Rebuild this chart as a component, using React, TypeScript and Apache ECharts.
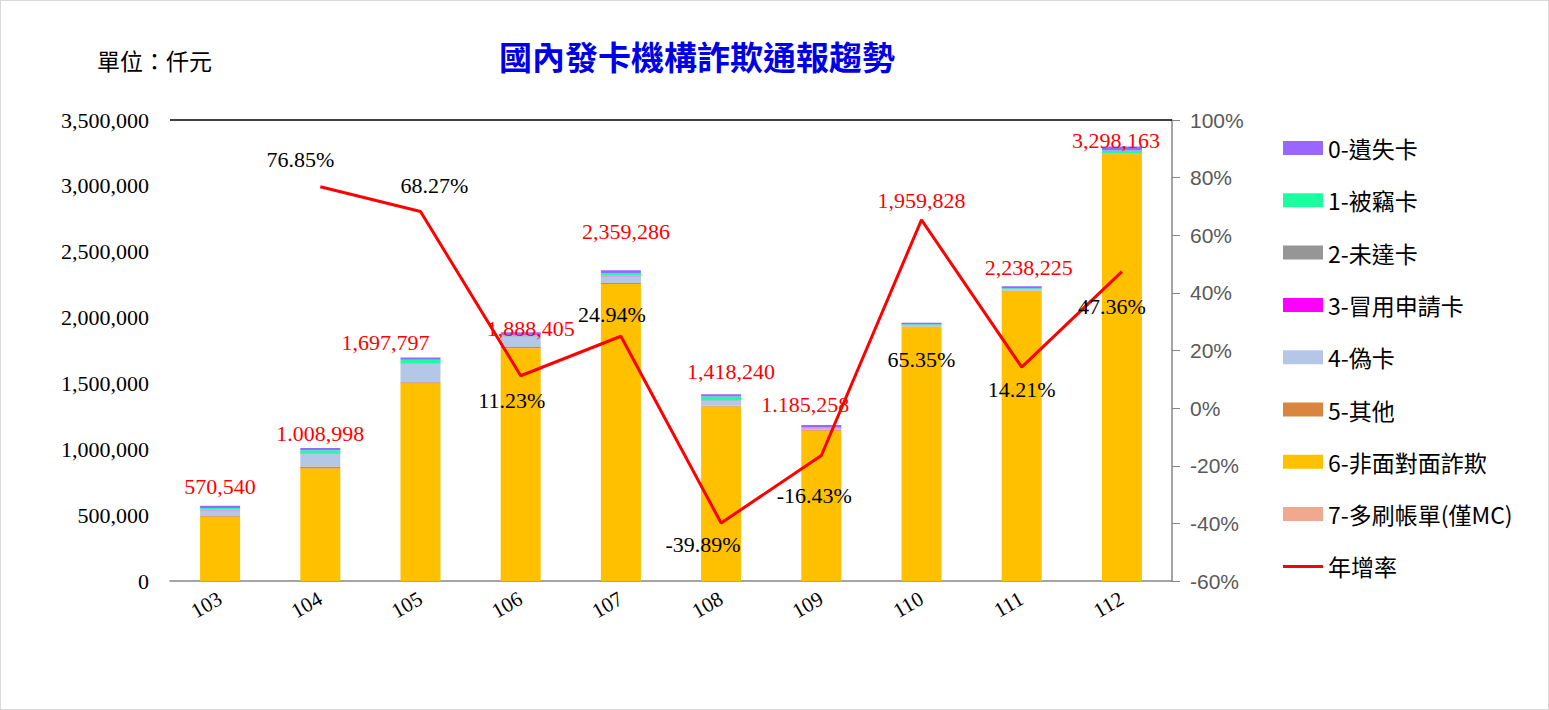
import React, { useEffect, useRef } from "react";
import * as echarts from "echarts";

// Reporting years (ROC calendar)
const years = ["103", "104", "105", "106", "107", "108", "109", "110", "111", "112"];

// Fraud reports by category, in thousands of NT$
const lostCard = [17000, 15998, 18797, 20405, 22286, 17240, 15258, 10828, 15225, 30163];
const stolenCard = [12000, 24000, 25000, 10000, 20000, 28000, 8000, 6000, 8000, 20000];
const notReceived = [3000, 2000, 2000, 2000, 2000, 2000, 1000, 1000, 1000, 1000];
const fraudApplication = [2000, 2000, 3000, 2000, 2000, 2000, 1000, 1000, 1000, 1000];
const counterfeit = [40000, 95000, 140000, 78000, 50000, 38000, 14000, 8000, 10000, 3000];
const otherFraud = [8000, 15000, 9000, 8000, 8000, 6000, 6000, 5000, 5000, 3000];
const cardNotPresent = [488540, 855000, 1500000, 1768000, 2255000, 1325000, 1140000, 1928000, 2198000, 3240000];
const multiBilling = [0, 0, 0, 0, 0, 0, 0, 0, 0, 0];

// Yearly totals and their printed labels
const totals = [570540, 1008998, 1697797, 1888405, 2359286, 1418240, 1185258, 1959828, 2238225, 3298163];
const totalLabels = ["570,540", "1.008,998", "1,697,797", "1,888,405", "2,359,286", "1,418,240", "1.185,258", "1,959,828", "2,238,225", "3,298,163"];

// Year-over-year growth (%)
const growth = [null, 76.85, 68.27, 11.23, 24.94, -39.89, -16.43, 65.35, 14.21, 47.36];

// Axis ticks
const leftTicks = { min: 0, max: 3500000, interval: 500000 };
const rightTicks = { min: -60, max: 100, interval: 20 };

const seriesNames = [
  "0-遺失卡",
  "1-被竊卡",
  "2-未達卡",
  "3-冒用申請卡",
  "4-偽卡",
  "5-其他",
  "6-非面對面詐欺",
  "7-多刷帳單(僅MC)",
];
const lineName = "年增率";

const serif = "'Liberation Serif', 'Times New Roman', serif";
const cjk = "'Noto Sans CJK TC', 'Noto Sans', sans-serif";

// Plain line swatch for the growth-rate legend entry (40x14 box, 3px stroke)
const lineIcon = "path://M0,0M0,5.5L40,5.5L40,8.5L0,8.5ZM40,14";

// Label placement tweaks (pixel offsets)
const totalLabelOffsets = [
  [0, -8], [0, -3], [-35, -3], [10, 8], [5, -27],
  [10, -11], [-16, -9], [0, -111], [7, -7], [-6, 5],
];
const growthLabelOffsets = [
  [0, 0], [-20, -16], [14, -14], [-9, 36], [-9, -10],
  [-18, 33], [-7, 52], [0, 151], [0, 34], [-10, 46],
];

export default function App() {
  const ref = useRef<HTMLDivElement>(null);

  useEffect(() => {
    document.body.style.margin = "0";
    if (!ref.current) return;
    const chart = echarts.init(ref.current, undefined, { renderer: "svg" });

    const stackDefs = [
      { name: seriesNames[7], data: multiBilling, color: "#f0a98e" },
      { name: seriesNames[6], data: cardNotPresent, color: "#ffc000" },
      { name: seriesNames[5], data: otherFraud, color: "#d9843f" },
      { name: seriesNames[4], data: counterfeit, color: "#b4c7e7" },
      { name: seriesNames[3], data: fraudApplication, color: "#ff00ff" },
      { name: seriesNames[2], data: notReceived, color: "#969696" },
      { name: seriesNames[1], data: stolenCard, color: "#1cff9e" },
      { name: seriesNames[0], data: lostCard, color: "#9966ff" },
    ];

    const barSeries = stackDefs.map((d) => ({
      name: d.name,
      type: "bar",
      stack: "total",
      barWidth: 40,
      data: d.data,
      itemStyle: { color: d.color },
      emphasis: { disabled: true },
    }));

    const labelFont = { fontFamily: serif, fontSize: 22 };
    const hiddenPoint = { color: "rgba(0,0,0,0)", opacity: 1 };

    const option: any = {
      animation: false,
      backgroundColor: "#ffffff",
      graphic: [
        {
          type: "text",
          x: 696,
          y: 55,
          style: {
            text: "國內發卡機構詐欺通報趨勢",
            fill: "#0000e6",
            font: `bold 33px ${cjk}`,
            textAlign: "center",
            textVerticalAlign: "middle",
          },
        },
        {
          type: "text",
          x: 96,
          y: 59,
          style: {
            text: "單位：仟元",
            fill: "#000000",
            font: `23px ${cjk}`,
            textAlign: "left",
            textVerticalAlign: "middle",
          },
        },
      ],
      legend: {
        orient: "vertical",
        left: 1282,
        top: 135,
        padding: 0,
        itemWidth: 40,
        itemHeight: 14,
        itemGap: 28.3,
        data: [
          ...seriesNames.map((n) => ({ name: n, icon: "rect" })),
          { name: lineName, icon: lineIcon },
        ],
        textStyle: {
          fontFamily: cjk,
          fontSize: 23,
          lineHeight: 24,
          color: "#000000",
        },
        selectedMode: false,
      },
      grid: { left: 169, right: 376, top: 119, bottom: 128, containLabel: false },
      xAxis: {
        type: "category",
        data: years,
        axisLine: { show: true, lineStyle: { color: "#868686", width: 1.5 } },
        axisTick: { show: false },
        axisLabel: {
          rotate: 30,
          margin: 16,
          fontFamily: serif,
          fontSize: 21,
          color: "#000000",
        },
      },
      yAxis: [
        {
          type: "value",
          min: leftTicks.min,
          max: leftTicks.max,
          interval: leftTicks.interval,
          axisLine: { show: false },
          axisTick: { show: false },
          splitLine: { show: false },
          axisLabel: {
            margin: 21,
            fontFamily: serif,
            fontSize: 22,
            color: "#000000",
            formatter: (v: number) => v.toLocaleString("en-US"),
          },
        },
        {
          type: "value",
          min: rightTicks.min,
          max: rightTicks.max,
          interval: rightTicks.interval,
          position: "right",
          axisLine: { show: true, lineStyle: { color: "#868686", width: 1.5 } },
          axisTick: { show: true, length: 8, inside: false, lineStyle: { color: "#868686" } },
          splitLine: { show: false },
          axisLabel: {
            margin: 18,
            fontFamily: "'Liberation Sans', Arial, sans-serif",
            fontSize: 21,
            color: "#595959",
            formatter: (v: number) => `${v}%`,
          },
        },
      ],
      series: [
        ...barSeries,
        {
          name: lineName,
          type: "line",
          yAxisIndex: 1,
          symbol: "none",
          z: 4,
          data: growth,
          lineStyle: { color: "#ff0000", width: 3 },
          itemStyle: { color: "#ff0000" },
          emphasis: { disabled: true },
        },
        {
          name: "總計",
          type: "scatter",
          symbolSize: 1,
          itemStyle: hiddenPoint,
          z: 5,
          data: totals.map((v, i) => ({
            value: v,
            label: { offset: totalLabelOffsets[i] },
          })),
          label: {
            show: true,
            position: "top",
            distance: 0,
            ...labelFont,
            color: "#ff0000",
            opacity: 1,
            formatter: (p: any) => totalLabels[p.dataIndex],
          },
          markLine: {
            silent: true,
            symbol: "none",
            label: { show: false },
            lineStyle: { color: "#000000", width: 1.5, type: "solid" },
            data: [{ yAxis: leftTicks.max }],
          },
          emphasis: { disabled: true },
        },
        {
          name: "年增率標籤",
          type: "scatter",
          yAxisIndex: 1,
          symbolSize: 1,
          itemStyle: hiddenPoint,
          z: 5,
          data: growth.map((v, i) => ({
            value: v == null ? "-" : v,
            label: { offset: growthLabelOffsets[i] },
          })),
          label: {
            show: true,
            position: "top",
            distance: 0,
            ...labelFont,
            color: "#000000",
            opacity: 1,
            formatter: (p: any) =>
              typeof p.value === "number" ? `${p.value.toFixed(2)}%` : "",
          },
          emphasis: { disabled: true },
        },
      ],
    };

    chart.setOption(option);
    return () => chart.dispose();
  }, []);

  return (
    <div
      ref={ref}
      style={{
        width: 1549,
        height: 710,
        border: "1px solid #d9d9d9",
        boxSizing: "border-box",
        background: "#ffffff",
      }}
    />
  );
}
